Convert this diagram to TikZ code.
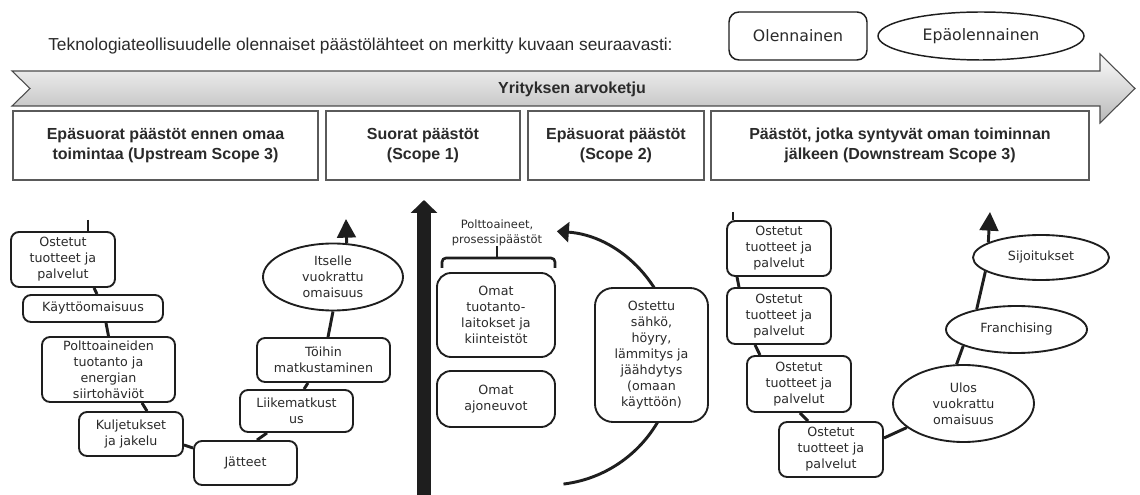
\documentclass[tikz,border=0pt]{standalone}
\usepackage{fontspec}
\setmainfont{DejaVu Sans}
\newfontfamily\arialfont{Liberation Sans}
\usetikzlibrary{arrows.meta,shapes.geometric,calc}

\definecolor{ink}{HTML}{1E1E1E}
\definecolor{txt}{HTML}{2A2A2A}
\definecolor{frame}{HTML}{5A5A5A}

\begin{document}
\begin{tikzpicture}[x=0.75pt,y=-0.75pt,
  every node/.style={inner sep=0pt, text=txt},
  wh/.style 2 args={minimum width=#1*0.75pt, minimum height=#2*0.75pt},
  hdr/.style={draw=frame, line width=0.8pt, fill=white, align=center,
    font=\arialfont\bfseries\fontsize{12}{15}\selectfont},
  src/.style={draw=ink, line width=1.4pt, rounded corners=6pt, fill=white,
    align=center, font=\fontsize{9.5}{12}\selectfont},
  oval/.style={draw=ink, line width=1.4pt, ellipse, fill=white,
    align=center, font=\fontsize{9.5}{12}\selectfont},
  link/.style={draw=ink, line width=2.2pt},
  up/.style={link, -{Triangle[width=14pt,length=14pt]}},
]
\useasboundingbox (0,0) rectangle (1140,495);

% heading line and legend
\node[anchor=west, font=\arialfont\fontsize{13}{15}\selectfont] (title) at (48,46)
  {Teknologiateollisuudelle olennaiset päästölähteet on merkitty kuvaan seuraavasti:};
\node[src, line width=1.1pt, rounded corners=7.5pt, wh={138}{48},
  font=\fontsize{11.8}{14}\selectfont] (legA) at (798,36) {Olennainen};
\node[oval, line width=1.1pt, wh={206}{48},
  font=\fontsize{11.8}{14}\selectfont] (legB) at (981,36) {Epäolennainen};

% value chain band
\path[draw=gray!60!black, line width=0.8pt, top color=gray!4, bottom color=gray!55]
  (12,71) -- (1100,71) -- (1100,54) -- (1135,88.5) -- (1100,123) -- (1100,106)
  -- (12,106) -- (30,88.5) -- cycle;
\node[font=\arialfont\bfseries\fontsize{12}{15}\selectfont] (chain) at (572,89)
  {Yrityksen arvoketju};

% scope headings
\node[hdr, wh={305}{69}] (sc1) at (165.5,145.5) {Epäsuorat päästöt ennen omaa\\toimintaa (Upstream Scope 3)};
\node[hdr, wh={194}{69}] (sc2) at (423,145.5) {Suorat päästöt\\(Scope 1)};
\node[hdr, wh={176}{69}] (sc3) at (616,145.5) {Epäsuorat päästöt\\(Scope 2)};
\node[hdr, wh={378}{69}] (sc4) at (900,145.5) {Päästöt, jotka syntyvät oman toiminnan\\jälkeen (Downstream Scope 3)};

% upstream chain
\node[src, wh={104}{55}] (u1) at (63,259.5) {Ostetut\\tuotteet ja\\palvelut};
\node[src, wh={140}{27}] (u2) at (93,308.5) {Käyttöomaisuus};
\node[src, wh={133}{65}] (u3) at (108.5,369.5) {Polttoaineiden\\tuotanto ja\\energian\\siirtohäviöt};
\node[src, wh={104}{44}] (u4) at (131,434) {Kuljetukset\\ja jakelu};
\node[src, wh={103}{44}] (u5) at (245.5,463) {Jätteet};
\node[src, wh={113}{42}] (u6) at (296.5,411) {Liikematkust\\us};
\node[src, wh={133}{44}] (u7) at (323.5,360) {Töihin\\matkustaminen};
\node[oval, wh={140}{67}] (u8) at (333,277) {Itselle\\vuokrattu\\omaisuus};

\coordinate (uTop) at (88,220);
\coordinate (uTip) at (346,219);
\draw[link] (uTop) -- ($(u1.north)+(25,0)$);
\draw[link] ($(u1.south)+(31,0)$) -- ($(u2.north)+(4,0)$);
\draw[link] ($(u2.south)+(13,0)$) -- (u3.north);
\draw[link] ($(u3.south)+(33.5,0)$) -- ($(u4.north)+(16,0)$);
\draw[link] ($(u4.east)+(0,11)$) -- ($(u5.west)+(0,-15)$);
\draw[link] ($(u5.north)+(11.5,0)$) -- ($(u6.south)+(-29.5,0)$);
\draw[link] ($(u6.north)+(7.5,0)$) -- ($(u7.south)+(-15.5,0)$);
\draw[link] ($(u7.north)+(4.5,0)$) -- (u8.south);
\draw[up] (u8.68) -- (uTip);

% scope 1 and 2
\coordinate (axBase) at (424,495);
\coordinate (axTip) at (424,200);
\draw[draw=ink, line width=10.5pt, -{Triangle[width=19.5pt,length=9.75pt]}] (axBase) -- (axTip);

\node[font=\fontsize{8.6}{11}\selectfont, align=center] (fuel) at (497,233)
  {Polttoaineet,\\prosessipäästöt};
\draw[link, line width=2pt, rounded corners=3pt] (442,268) -- (442,258) -- (555,258) -- (555,268);
\draw[link, line width=2pt] (497,258) -- (fuel.south);

\coordinate (loopC) at (548,358);
\draw[link, -{Triangle[width=15pt,length=9pt]}]
  ([shift={(-83:95.25pt)}]loopC) arc[start angle=-83, end angle=86, radius=95.25pt];

\node[src, rounded corners=10.5pt, wh={118}{84}] (own1) at (496,315) {Omat\\tuotanto-\\laitokset ja\\kiinteistöt};
\node[src, rounded corners=10.5pt, wh={118}{56}] (own2) at (496,399) {Omat\\ajoneuvot};
\node[src, rounded corners=13.5pt, wh={113}{134}] (elec) at (651.5,355)
  {Ostettu\\sähkö,\\höyry,\\lämmitys ja\\jäähdytys\\(omaan\\käyttöön)};

% downstream chain
\node[src, wh={104}{55}] (d1) at (779,248.5) {Ostetut\\tuotteet ja\\palvelut};
\node[src, wh={104}{56}] (d2) at (779,316) {Ostetut\\tuotteet ja\\palvelut};
\node[src, wh={104}{56}] (d3) at (799,384) {Ostetut\\tuotteet ja\\palvelut};
\node[src, wh={104}{55}] (d4) at (831,449.5) {Ostetut\\tuotteet ja\\palvelut};
\node[oval, wh={141}{77}] (d5) at (963.5,403.5) {Ulos\\vuokrattu\\omaisuus};
\node[oval, wh={141}{47}] (d6) at (1016.5,329.5) {Franchising};
\node[oval, wh={136}{45}] (d7) at (1041,257.5) {Sijoitukset};

\coordinate (dTop) at (733,212);
\coordinate (dTip) at (990,212);
\draw[link] (dTop) -- ($(d1.north)+(-46,0)$);
\draw[link] ($(d1.south)+(-42,0)$) -- ($(d2.north)+(-40,0)$);
\draw[link] ($(d2.south)+(-24,0)$) -- ($(d3.north)+(-39,0)$);
\draw[link] ($(d3.south)+(1,0)$) -- ($(d4.north)+(-23,0)$);
\draw[link] ($(d4.east)+(0,-11.5)$) -- (d5.203);
\draw[link] (d5.100) -- (d6.197);
\draw[link] (d6.153) -- (d7.194);
\draw[up] (d7.164) -- (dTip);
\end{tikzpicture}
\end{document}
